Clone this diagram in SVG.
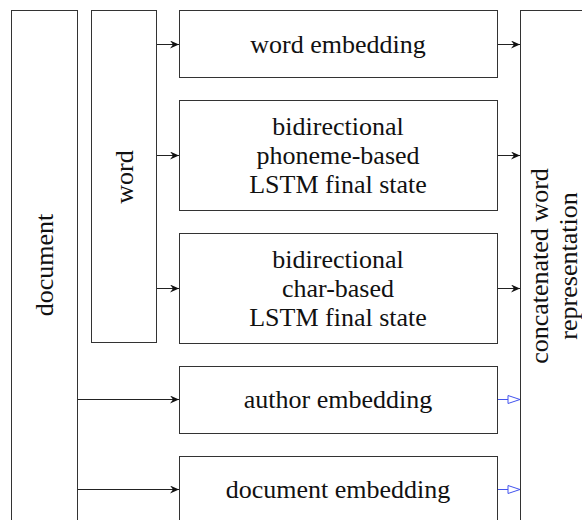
<svg xmlns="http://www.w3.org/2000/svg" width="582" height="520" viewBox="0 0 582 520">
<style>
.box{fill:#fff;stroke:#333;stroke-width:1}
text{font-family:"Times New Roman",Times,"Liberation Serif","DejaVu Serif","Noto Serif",serif;font-size:26px;fill:#111;text-anchor:middle}
.c{stroke:#222;stroke-width:1;fill:none}
.b{stroke:#4455ee;stroke-width:1;fill:none}
</style>
<defs>
<marker id="ah" markerWidth="10" markerHeight="8" refX="9" refY="4" orient="auto" markerUnits="userSpaceOnUse">
<path d="M0,0 L9,4 L0,8 L3,4 Z" fill="#111"/>
</marker>
<marker id="oh" markerWidth="14" markerHeight="10" refX="13" refY="5" orient="auto" markerUnits="userSpaceOnUse">
<path d="M1,1 L13,5 L1,9 Z" fill="#fff" stroke="#4455ee" stroke-width="1"/>
</marker>
</defs>
<g id="document"><rect class="box" x="11.5" y="10.5" width="66" height="520"/><text transform="translate(53,265) rotate(-90)">document</text></g>
<g id="word"><rect class="box" x="91.5" y="10.5" width="65" height="332"/><text transform="translate(133,177) rotate(-90)">word</text></g>
<g id="wordemb"><rect class="box" x="179.5" y="10.5" width="318" height="67"/><text x="338" y="53">word embedding</text></g>
<g id="phoneme"><rect class="box" x="179.5" y="100.5" width="318" height="110"/><text x="338" y="135">bidirectional</text><text x="338" y="164">phoneme-based</text><text x="338" y="193">LSTM final state</text></g>
<g id="char"><rect class="box" x="179.5" y="233.5" width="318" height="110"/><text x="338" y="268">bidirectional</text><text x="338" y="297">char-based</text><text x="338" y="326">LSTM final state</text></g>
<g id="author"><rect class="box" x="179.5" y="366.5" width="318" height="67"/><text x="338" y="408">author embedding</text></g>
<g id="docemb"><rect class="box" x="179.5" y="456.5" width="318" height="80"/><text x="338" y="498">document embedding</text></g>
<g id="concat"><rect class="box" x="520.5" y="10.5" width="80" height="520"/><text transform="translate(548,266) rotate(-90)">concatenated word</text><text transform="translate(577,266) rotate(-90)">representation</text></g>
<g id="connectors">
<line class="c" x1="157" y1="44.5" x2="179" y2="44.5" marker-end="url(#ah)"/>
<line class="c" x1="157" y1="155.5" x2="179" y2="155.5" marker-end="url(#ah)"/>
<line class="c" x1="157" y1="288.5" x2="179" y2="288.5" marker-end="url(#ah)"/>
<line class="c" x1="78" y1="399.5" x2="179" y2="399.5" marker-end="url(#ah)"/>
<line class="c" x1="78" y1="489.5" x2="179" y2="489.5" marker-end="url(#ah)"/>
<line class="c" x1="498" y1="44.5" x2="520" y2="44.5" marker-end="url(#ah)"/>
<line class="c" x1="498" y1="155.5" x2="520" y2="155.5" marker-end="url(#ah)"/>
<line class="c" x1="498" y1="288.5" x2="520" y2="288.5" marker-end="url(#ah)"/>
<line class="b" x1="498" y1="399.5" x2="520" y2="399.5" marker-end="url(#oh)"/>
<line class="b" x1="498" y1="489.5" x2="520" y2="489.5" marker-end="url(#oh)"/>
</g>
</svg>
